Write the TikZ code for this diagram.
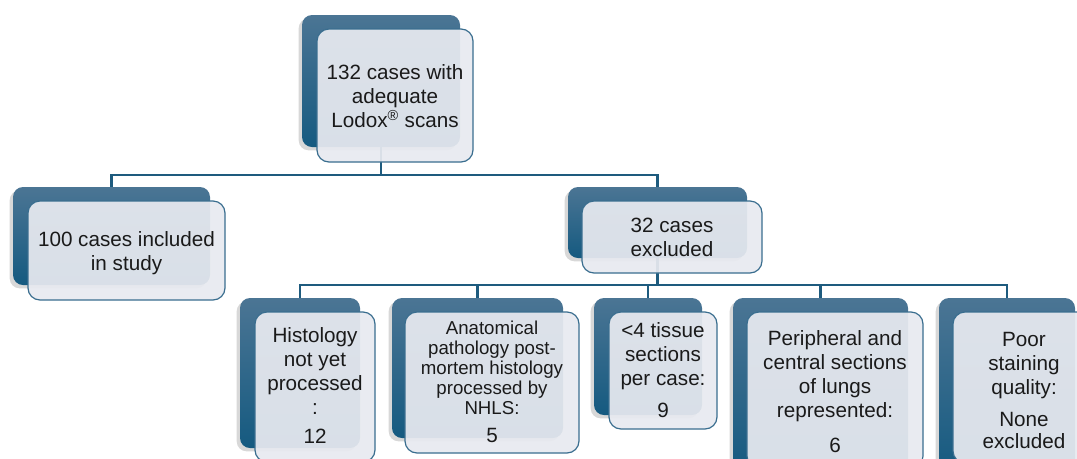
\documentclass[tikz,border=0pt]{standalone}
\usepackage{fontspec}
\setmainfont{Liberation Sans}
\usetikzlibrary{shadows,fit}
\definecolor{bgtop}{HTML}{4B7594}
\definecolor{bgbot}{HTML}{155A80}
\definecolor{edgecol}{HTML}{3A6E8F}
\definecolor{frontfill}{HTML}{E8EAF0}
\definecolor{conncol}{HTML}{1E5B7E}
\definecolor{txtcol}{HTML}{1A1A1A}
\begin{document}
\begin{tikzpicture}[x=0.75pt,y=-0.75pt,
 backbox/.style={rectangle, rounded corners=7.5pt, top color=bgtop, bottom color=bgbot, draw=none, inner sep=0pt,
   drop shadow={shadow xshift=-2.5pt, shadow yshift=-2.5pt, opacity=0.3}},
 frontbox/.style={rectangle, rounded corners=9pt, draw=edgecol, line width=0.9pt, fill=frontfill, fill opacity=0.93,
   inner sep=0pt},
 boxtext/.style={text=txtcol, inner sep=0pt, align=center, font=\fontsize{15.5}{18}\selectfont},
 smalltext/.style={font=\fontsize{14}{15}\selectfont},
 conn/.style={draw=conncol, line width=1.8pt}]
\useasboundingbox (0,0) rectangle (1077,458);
\fill[white] (0,0) rectangle (1077,458);
\begin{scope}
\clip (0,0) rectangle (1077,458);
% back boxes
\node[backbox, fit={(302,15) (460,147)}] (topB) {};
\node[backbox, fit={(13,187) (210,285)}] (leftB) {};
\node[backbox, fit={(568,187) (747,258)}] (exclB) {};
\node[backbox, fit={(240,298) (360,448)}] (b1B) {};
\node[backbox, fit={(392,298) (563,438)}] (b2B) {};
\node[backbox, fit={(594,298) (702,415)}] (b3B) {};
\node[backbox, fit={(733,298) (908,475)}] (b4B) {};
\node[backbox, fit={(939,298) (1075,475)}] (b5B) {};
% connectors
\coordinate (h1) at (0,175);
\coordinate (h2) at (0,285);
\draw[conn] (topB.south) -- (topB.south |- h1) -| (leftB.north);
\draw[conn] (topB.south |- h1) -| (exclB.north);
\draw[conn] (exclB.south) -- (exclB.south |- h2);
\draw[conn] (b1B.north) |- (h2 -| b5B.north) -- (b5B.north);
\draw[conn] (h2 -| b2B.north) -- (b2B.north);
\draw[conn] (h2 -| b3B.north) -- (b3B.north);
\draw[conn] (h2 -| b4B.north) -- (b4B.north);
% front boxes
\node[frontbox, fit={(317,29) (473,162)}] (topF) {};
\node[frontbox, fit={(28,201) (225,300)}] (leftF) {};
\node[frontbox, fit={(582,201) (762,273)}] (exclF) {};
\node[frontbox, fit={(255,312) (375,462)}] (b1F) {};
\node[frontbox, fit={(405,312) (579,453)}] (b2F) {};
\node[frontbox, fit={(609,312) (717,429)}] (b3F) {};
\node[frontbox, fit={(747,312) (923,468)}] (b4F) {};
\node[frontbox, fit={(953,312) (1095,463)}] (b5F) {};
% texts
\node[boxtext] (topT) at ([yshift=-0.5pt]topF.center) {132 cases with\\adequate\\Lodox\textsuperscript{®} scans};
\node[boxtext] (leftT) at ([yshift=-2pt]leftF.center) {100 cases included\\in study};
\node[boxtext] (exclT) at (exclF.center) {32 cases\\excluded};
\node[boxtext] (b1T) at ([yshift=1pt]b1F.center) {Histology\\not yet\\processed\\:\\[4pt]12};
\node[boxtext, smalltext] (b2T) at ([yshift=0.5pt]b2F.center) {Anatomical\\pathology post-\\mortem histology\\processed by\\NHLS:\\[6pt]{\fontsize{15.5}{18}\selectfont 5}};
\node[boxtext] (b3T) at (b3F.center) {<4 tissue\\sections\\per case:\\[6pt]9};
\node[boxtext] (b4T) at ([yshift=-1pt]b4F.center) {Peripheral and\\central sections\\of lungs\\represented:\\[8pt]6};
\node[boxtext] (b5T) at ([yshift=-2.5pt]b5F.center) {Poor\\staining\\quality:\\[6pt]None\\[-1.5pt]excluded};
\end{scope}
\end{tikzpicture}
\end{document}
